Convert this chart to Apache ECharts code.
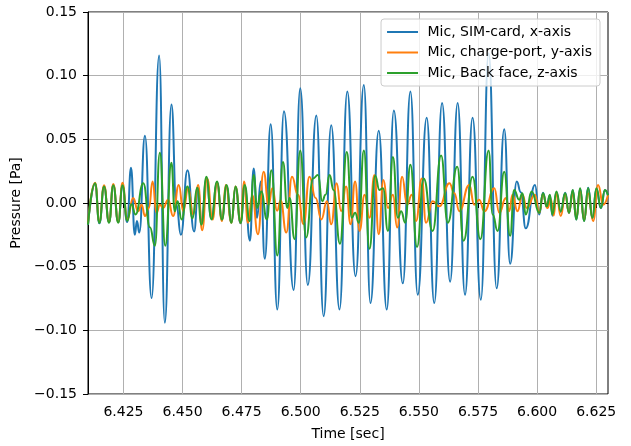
<!DOCTYPE html>
<html><head><meta charset="utf-8">
<script src="https://cdn.jsdelivr.net/npm/echarts@6/dist/echarts.min.js"></script>
<style>html,body{margin:0;padding:0;background:#fff}#c{width:631px;height:446px}</style>
</head><body><div id="c"></div>
<script>
const xTicks = [6.425, 6.450, 6.475, 6.500, 6.525, 6.550, 6.575, 6.600, 6.625];
const yTicks = [-0.15, -0.10, -0.05, 0.00, 0.05, 0.10, 0.15];
const seriesNames = ['Mic, SIM-card, x-axis', 'Mic, charge-port, y-axis', 'Mic, Back face, z-axis'];

const blueT = [6.4100,6.4130,6.4148,6.4168,6.4189,6.4207,6.4228,6.4246,6.4266,6.4282,6.4298,6.4307,6.4317,6.4341,6.4369,6.4401,6.4425,6.4453,6.4474,6.4493,6.4521,6.4549,6.4566,6.4580,6.4601,6.4622,6.4646,6.4667,6.4686,6.4707,6.4724,6.4746,6.4763,6.4785,6.4801,6.4815,6.4831,6.4848,6.4873,6.4901,6.4929,6.4970,6.4998,6.5030,6.5066,6.5097,6.5129,6.5164,6.5197,6.5232,6.5267,6.5295,6.5330,6.5364,6.5394,6.5432,6.5464,6.5495,6.5533,6.5565,6.5598,6.5632,6.5664,6.5695,6.5727,6.5762,6.5795,6.5829,6.5861,6.5886,6.5914,6.5931,6.5952,6.5991,6.6009,6.6025,6.6041,6.6054,6.6065,6.6082,6.6100,6.6119,6.6135,6.6151,6.6166,6.6182,6.6199,6.6216,6.6234,6.6251,6.6270,6.6287,6.6300];
const blueV = [-0.017,0.015,-0.016,0.013,-0.015,0.014,-0.015,0.013,-0.015,0.0276,-0.025,-0.0142,-0.0232,0.0528,-0.0747,0.1159,-0.094,0.0773,-0.0013,-0.025,0.0258,-0.0224,0.012,-0.015,0.019,-0.012,0.016,-0.013,0.013,-0.015,0.012,-0.016,0.013,-0.0296,0.0271,-0.0116,0.0168,-0.0438,0.0618,-0.0837,0.0721,-0.0683,0.0902,-0.0644,0.0688,-0.0889,0.0611,-0.0837,0.0876,-0.0575,0.0927,-0.0786,0.0567,-0.0837,0.0726,-0.0631,0.0876,-0.0721,0.067,-0.0786,0.0786,-0.0618,0.0786,-0.0721,0.067,-0.076,0.1177,-0.067,0.058,-0.0477,0.0168,0.0085,-0.0199,0.0142,-0.009,0.008,-0.003,0.006,-0.010,0.008,-0.007,0.008,-0.008,0.010,-0.013,0.011,-0.014,0.012,-0.012,0.011,-0.004,0.010,0.006];

const orangeT = [6.4100,6.4130,6.4148,6.4168,6.4189,6.4207,6.4228,6.4246,6.4266,6.4291,6.4312,6.4327,6.4341,6.4358,6.4373,6.4390,6.4404,6.4418,6.4439,6.4460,6.4484,6.4503,6.4524,6.4545,6.4566,6.4583,6.4604,6.4627,6.4646,6.4667,6.4683,6.4707,6.4724,6.4746,6.4760,6.4777,6.4795,6.4819,6.4843,6.4864,6.4880,6.4900,6.4915,6.4939,6.4963,6.4988,6.5012,6.5037,6.5063,6.5087,6.5111,6.5129,6.5152,6.5171,6.5192,6.5211,6.5230,6.5249,6.5270,6.5291,6.5312,6.5330,6.5350,6.5369,6.5390,6.5408,6.5429,6.5450,6.5470,6.5488,6.5512,6.5530,6.5558,6.5587,6.5629,6.5650,6.5671,6.5713,6.5734,6.5755,6.5777,6.5819,6.5840,6.5868,6.5882,6.5896,6.5917,6.5938,6.5956,6.5991,6.6009,6.6025,6.6044,6.6058,6.6070,6.6082,6.6100,6.6119,6.6135,6.6151,6.6166,6.6182,6.6199,6.6216,6.6237,6.6258,6.6280,6.6300];
const orangeV = [-0.016,0.016,-0.015,0.014,-0.015,0.015,-0.015,0.016,-0.013,0.004,-0.0064,-0.0013,-0.0103,-0.0039,0.0168,-0.0077,-0.0013,-0.0039,0.0026,-0.0103,0.0142,-0.0064,0.0116,-0.009,0.0142,-0.0214,0.0193,-0.0129,0.0155,-0.0142,0.0142,-0.0155,0.013,-0.0155,0.0168,-0.0155,0.006,-0.0245,0.0245,-0.0013,0.0116,-0.006,0.002,-0.0232,0.0206,0.0064,-0.0167,0.0206,0.0039,-0.0129,0.0013,-0.0167,0.0155,-0.0064,0.0129,-0.0167,0.0168,-0.0219,0.0064,-0.0116,0.0219,-0.0245,0.0181,-0.0039,0.0064,-0.0193,0.0206,-0.0013,0.0064,-0.0142,0.0193,-0.0155,0.0013,-0.0026,0.0155,0.0077,-0.0064,0.0142,-0.0013,0.0026,-0.0064,0.0116,-0.0077,0.0039,-0.0064,0.0064,-0.0064,0.0064,-0.0039,0.0064,-0.0077,0.0064,-0.004,0.003,-0.0099,0.0077,-0.0103,0.0064,-0.0077,0.0077,-0.0116,0.009,-0.0129,0.0077,-0.0142,0.0142,-0.0013,0.0064];

const greenT = [6.4100,6.4130,6.4148,6.4168,6.4189,6.4207,6.4228,6.4246,6.4266,6.4284,6.4301,6.4334,6.4362,6.4383,6.4404,6.4427,6.4453,6.4467,6.4479,6.4496,6.4521,6.4542,6.4562,6.4580,6.4601,6.4622,6.4646,6.4667,6.4686,6.4707,6.4724,6.4746,6.4763,6.4784,6.4802,6.4815,6.4833,6.4857,6.4876,6.4901,6.4925,6.4943,6.4953,6.4974,6.4998,6.5023,6.5052,6.5073,6.5091,6.5105,6.5122,6.5139,6.5166,6.5195,6.5216,6.5230,6.5246,6.5267,6.5291,6.5315,6.5333,6.5348,6.5369,6.5390,6.5411,6.5425,6.5442,6.5464,6.5492,6.5520,6.5558,6.5594,6.5622,6.5662,6.5689,6.5727,6.5760,6.5795,6.5812,6.5833,6.5861,6.5886,6.5903,6.5924,6.5938,6.5952,6.5977,6.6009,6.6025,6.6041,6.6054,6.6065,6.6082,6.6100,6.6119,6.6135,6.6151,6.6166,6.6182,6.6199,6.6216,6.6234,6.6251,6.6270,6.6287,6.6300];
const greenV = [-0.017,0.0155,-0.0155,0.013,-0.0155,0.014,-0.0155,0.014,-0.014,-0.001,-0.009,0.0155,-0.019,-0.0335,0.0394,-0.0335,0.0317,-0.0064,0.0013,-0.0129,0.0129,-0.012,0.012,-0.017,0.0206,-0.0129,0.0168,-0.0129,0.0142,-0.0155,0.013,-0.0155,0.0142,-0.0142,0.022,-0.0039,0.009,-0.0129,0.0258,-0.0412,0.0322,-0.0039,0.0039,-0.0284,0.0412,-0.0271,0.0193,0.0219,0.0013,0.0064,0.0219,0.0103,-0.032,0.040,-0.0116,-0.0077,-0.0155,0.0412,-0.036,0.0214,0.0103,0.0116,-0.0219,0.0361,-0.0116,-0.0064,-0.0155,0.030,-0.0345,0.0193,-0.0219,0.0373,-0.0155,0.0284,-0.0296,0.0206,-0.0284,0.0412,-0.009,-0.0219,0.0245,-0.0258,0.0103,0.0026,0.0077,-0.009,0.009,-0.0077,0.0077,-0.0026,0.0064,-0.009,0.009,-0.0064,0.0077,-0.0077,0.0103,-0.0129,0.0116,-0.0142,0.0116,-0.0116,0.0116,-0.0039,0.0103,0.006];

const colors = ['#1f77b4', '#ff7f0e', '#2ca02c'];
const FONT = 'DejaVu Sans';
const FS = 14;

function zip(t, v) { return t.map((x, i) => [x, v[i]]); }
const datasets = [zip(blueT, blueV), zip(orangeT, orangeV), zip(greenT, greenV)];

const chart = echarts.init(document.getElementById('c'), null, {renderer: 'canvas'});
chart.setOption({
  animation: false,
  backgroundColor: '#fff',
  textStyle: {fontFamily: FONT},
  grid: {left: 88, right: 23, top: 12, bottom: 47, show: true, borderColor: '#000', borderWidth: 1, backgroundColor: 'transparent'},
  legend: {
    orient: 'vertical', right: 31, top: 19,
    data: seriesNames,
    itemWidth: 31, itemHeight: 14, itemGap: 6.5,
    padding: [6, 8, 6, 5],
    backgroundColor: 'rgba(255,255,255,0.8)',
    borderColor: '#cccccc', borderWidth: 1, borderRadius: 3,
    itemStyle: {opacity: 0},
    lineStyle: {width: 2},
    formatter: n => ' ' + n,
    textStyle: {fontFamily: FONT, fontSize: FS, color: '#000'}
  },
  xAxis: {
    type: 'value', min: 6.41, max: 6.63,
    name: 'Time [sec]', nameLocation: 'middle', nameGap: 33,
    nameTextStyle: {fontFamily: FONT, fontSize: FS, color: '#000'},
    axisLine: {show: true, lineStyle: {color: '#000', width: 1}},
    axisTick: {show: true, length: 5, lineStyle: {color: '#000'}, customValues: xTicks},
    axisLabel: {fontFamily: FONT, fontSize: FS, color: '#000', margin: 11, customValues: xTicks,
      formatter: v => v.toFixed(3)},
    splitLine: {show: true, lineStyle: {color: '#b0b0b0', width: 1}}
  },
  yAxis: {
    type: 'value', min: yTicks[0], max: yTicks[yTicks.length - 1], interval: 0.05,
    name: 'Pressure [Pa]', nameLocation: 'middle', nameGap: 55,
    nameTextStyle: {fontFamily: FONT, fontSize: FS, color: '#000'},
    axisLine: {show: true, lineStyle: {color: '#000', width: 1}},
    axisTick: {show: true, length: 5, lineStyle: {color: '#000'}},
    axisLabel: {fontFamily: FONT, fontSize: FS, color: '#000', margin: 11,
      formatter: v => Math.abs(v) < 1e-9 ? '0.00' : (v < 0 ? '\u2212' : '') + Math.abs(v).toFixed(2)},
    splitLine: {show: true, lineStyle: {color: '#b0b0b0', width: 1}}
  },
  series: seriesNames.map((n, i) => ({
    name: n, type: 'line', data: datasets[i],
    symbol: 'none', showSymbol: false,
    smooth: 0.5, smoothMonotone: 'x',
    lineStyle: {color: colors[i], width: 2},
    itemStyle: {color: colors[i]},
    z: 2 + i
  }))
});
</script></body></html>
